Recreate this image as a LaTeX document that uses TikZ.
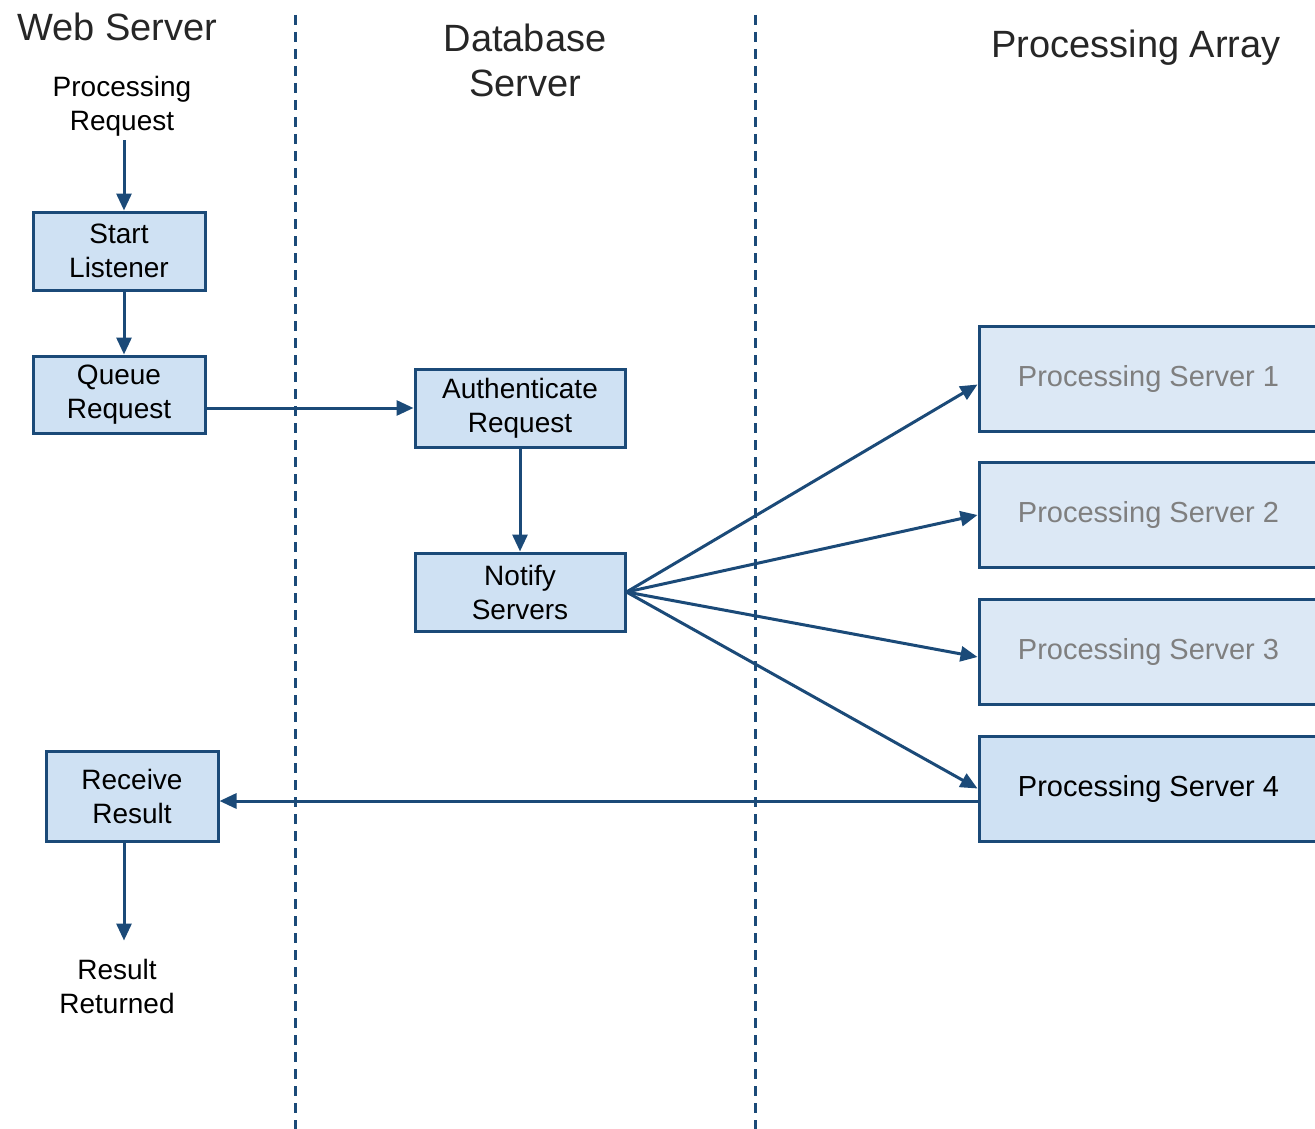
\documentclass[tikz,border=0pt]{standalone}
\usepackage{fontspec}
\setmainfont{Liberation Sans}
\usetikzlibrary{arrows.meta}
\definecolor{edge}{HTML}{1B4A78}
\definecolor{boxfill}{HTML}{CFE1F3}
\definecolor{lightfill}{HTML}{DCE8F5}
\definecolor{graytext}{HTML}{7F7F7F}
\tikzset{
  stepbox/.style={draw=edge, line width=3pt, fill=boxfill, align=center, inner sep=0pt,
    font=\fontsize{28}{34}\selectfont},
  psbox/.style={stepbox, minimum width=339pt, minimum height=105pt, fill=lightfill, text=graytext,
    font=\fontsize{29}{34}\selectfont},
  plain/.style={align=center, inner sep=0pt, font=\fontsize{28}{34}\selectfont},
  title/.style={align=center, inner sep=0pt, font=\fontsize{38}{45}\selectfont, text=black!85},
  conn/.style={draw=edge, line width=3pt, -{Triangle[length=17pt,width=15pt]}},
  lane/.style={draw=edge, line width=3pt, dash pattern=on 10pt off 7pt}
}
\begin{document}
\begin{tikzpicture}[x=1pt,y=-1pt]
\useasboundingbox (0,0) rectangle (1315,1129);
% lane separators
\coordinate (l1t) at (295,15); \coordinate (l1b) at (295,1129);
\coordinate (l2t) at (755,15); \coordinate (l2b) at (755,1129);
\draw[lane] (l1t) -- (l1b);
\draw[lane] (l2t) -- (l2b);
% titles
\node[title] (t1) at (117,27) {Web Server};
\node[title] (t2) at (525,60) {Database\\Server};
\node[title] (t3) at (1136,48) {Processing Array};
% nodes
\node[plain] (pr) at (122,106) {Processing\\Request};
\node[stepbox, minimum width=172pt, minimum height=78pt] (sl) at (119,251) {Start\\Listener};
\node[stepbox, minimum width=172pt, minimum height=77pt] (qr) at (119,394.5) {Queue\\Request};
\node[stepbox, minimum width=210pt, minimum height=78pt] (ar) at (520,408) {Authenticate\\Request};
\node[stepbox, minimum width=210pt, minimum height=78pt] (ns) at (520,592) {Notify\\Servers};
\node[stepbox, minimum width=172pt, minimum height=90pt] (rr) at (132,796) {Receive\\Result};
\node[plain] (ret) at (117,986) {Result\\Returned};
\node[psbox] (ps1) at (1148.5,378.5) {\raisebox{-3pt}{Processing Server 1}};
\node[psbox] (ps2) at (1148.5,515) {\raisebox{-3pt}{Processing Server 2}};
\node[psbox] (ps3) at (1148.5,652) {\raisebox{-3pt}{Processing Server 3}};
\node[psbox, fill=boxfill, text=black] (ps4) at (1148.5,788.5) {\raisebox{-3pt}{Processing Server 4}};
% helper coordinates
\coordinate (ax) at (124,0);
\coordinate (ay) at (0,801);
% connectors
\draw[conn] (pr.south -| ax) ++(0,4) -- (sl.north -| ax);
\draw[conn] (sl.south -| ax) -- (qr.north -| ax);
\draw[conn] (ar.west -| qr.east) -- (ar.west);
\draw[conn] (ar.south) -- (ns.north);
\draw[conn] (ns.east) -- ([yshift=-6pt]ps1.west);
\draw[conn] (ns.east) -- (ps2.west);
\draw[conn] (ns.east) -- ([yshift=-5pt]ps3.west);
\draw[conn] (ns.east) -- (ps4.west);
\draw[conn] (ps4.west |- ay) -- (rr.east |- ay);
\draw[conn] (rr.south -| ax) -- ([yshift=18pt]ret.north -| ax);
\end{tikzpicture}
\end{document}
